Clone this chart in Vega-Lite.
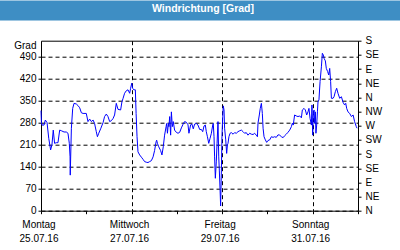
{
  "$schema": "https://vega.github.io/schema/vega-lite/v6.json",
  "width": 317,
  "height": 170,
  "autosize": {"type": "none"},
  "padding": {"left": 41, "top": 40.7, "right": 42, "bottom": 39.3},
  "background": "white",
  "config": {
    "view": {"stroke": "black", "strokeWidth": 1},
    "axis": {
      "labelFont": "Liberation Sans",
      "labelFontSize": 10,
      "labelColor": "black",
      "tickColor": "black",
      "tickSize": 3,
      "domain": false,
      "titleFont": "Liberation Sans",
      "labelFlush": false,
      "labelOverlap": false,
      "labelBound": false
    }
  },
  "data": {
    "values": [
      {"h": 0, "deg": 318}, {"h": 0.2, "deg": 283}, {"h": 0.5, "deg": 272}, {"h": 1.6, "deg": 272},
      {"h": 2.3, "deg": 288}, {"h": 3.2, "deg": 280}, {"h": 4.1, "deg": 230}, {"h": 5.1, "deg": 193},
      {"h": 5.8, "deg": 209}, {"h": 6.5, "deg": 256}, {"h": 7.2, "deg": 214}, {"h": 8.1, "deg": 216},
      {"h": 9.0, "deg": 216}, {"h": 9.9, "deg": 256}, {"h": 10.8, "deg": 254}, {"h": 12.2, "deg": 250},
      {"h": 13.4, "deg": 250}, {"h": 14.3, "deg": 246}, {"h": 15.0, "deg": 214}, {"h": 15.4, "deg": 171},
      {"h": 15.5, "deg": 113}, {"h": 16.1, "deg": 262}, {"h": 16.8, "deg": 325}, {"h": 17.5, "deg": 341},
      {"h": 18.7, "deg": 339}, {"h": 19.6, "deg": 334}, {"h": 20.5, "deg": 327}, {"h": 21.4, "deg": 311},
      {"h": 22.3, "deg": 309}, {"h": 24.0, "deg": 309}, {"h": 24.9, "deg": 283}, {"h": 25.8, "deg": 291},
      {"h": 26.7, "deg": 283}, {"h": 27.6, "deg": 288}, {"h": 28.4, "deg": 277}, {"h": 29.3, "deg": 251},
      {"h": 29.9, "deg": 235}, {"h": 30.6, "deg": 246}, {"h": 31.6, "deg": 260}, {"h": 32.9, "deg": 280},
      {"h": 33.7, "deg": 299}, {"h": 34.6, "deg": 307}, {"h": 35.5, "deg": 299}, {"h": 36.4, "deg": 283},
      {"h": 37.3, "deg": 286}, {"h": 38.2, "deg": 293}, {"h": 39.0, "deg": 304}, {"h": 39.9, "deg": 341},
      {"h": 40.8, "deg": 322}, {"h": 42.2, "deg": 320}, {"h": 42.9, "deg": 346}, {"h": 43.5, "deg": 357},
      {"h": 44.3, "deg": 373}, {"h": 45.2, "deg": 381}, {"h": 46.1, "deg": 384}, {"h": 47.0, "deg": 373},
      {"h": 47.5, "deg": 389}, {"h": 48.1, "deg": 405}, {"h": 48.6, "deg": 388}, {"h": 49.3, "deg": 384},
      {"h": 50.0, "deg": 384}, {"h": 50.4, "deg": 309}, {"h": 50.9, "deg": 235}, {"h": 51.4, "deg": 187},
      {"h": 52.3, "deg": 177}, {"h": 53.2, "deg": 170}, {"h": 54.1, "deg": 163}, {"h": 54.9, "deg": 156},
      {"h": 55.8, "deg": 154}, {"h": 56.7, "deg": 153}, {"h": 57.6, "deg": 156}, {"h": 58.5, "deg": 159},
      {"h": 59.4, "deg": 171}, {"h": 60.2, "deg": 191}, {"h": 61.0, "deg": 219}, {"h": 61.3, "deg": 224},
      {"h": 61.7, "deg": 214}, {"h": 62.4, "deg": 203}, {"h": 63.4, "deg": 191}, {"h": 64.1, "deg": 177},
      {"h": 64.8, "deg": 203}, {"h": 65.5, "deg": 240}, {"h": 66.3, "deg": 267}, {"h": 66.6, "deg": 277},
      {"h": 67.0, "deg": 246}, {"h": 67.5, "deg": 277}, {"h": 67.8, "deg": 267}, {"h": 68.2, "deg": 299},
      {"h": 68.7, "deg": 240}, {"h": 69.1, "deg": 314}, {"h": 69.6, "deg": 267}, {"h": 70.1, "deg": 283},
      {"h": 70.8, "deg": 256}, {"h": 71.7, "deg": 249}, {"h": 72.6, "deg": 246}, {"h": 73.5, "deg": 249},
      {"h": 74.4, "deg": 263}, {"h": 75.3, "deg": 275}, {"h": 76.1, "deg": 283}, {"h": 77.0, "deg": 281},
      {"h": 77.9, "deg": 273}, {"h": 78.4, "deg": 246}, {"h": 79.3, "deg": 273}, {"h": 80.0, "deg": 275},
      {"h": 80.7, "deg": 260}, {"h": 81.4, "deg": 275}, {"h": 82.3, "deg": 277}, {"h": 83.2, "deg": 272},
      {"h": 84.1, "deg": 258}, {"h": 85.0, "deg": 258}, {"h": 85.7, "deg": 251}, {"h": 86.4, "deg": 269},
      {"h": 87.1, "deg": 272}, {"h": 87.6, "deg": 251}, {"h": 88.2, "deg": 235}, {"h": 88.9, "deg": 214},
      {"h": 89.6, "deg": 230}, {"h": 90.3, "deg": 246}, {"h": 91.0, "deg": 272}, {"h": 91.3, "deg": 277},
      {"h": 91.7, "deg": 235}, {"h": 92.0, "deg": 171}, {"h": 92.4, "deg": 103}, {"h": 92.9, "deg": 155},
      {"h": 93.3, "deg": 214}, {"h": 93.8, "deg": 283}, {"h": 94.2, "deg": 171}, {"h": 94.5, "deg": 129},
      {"h": 94.9, "deg": 66}, {"h": 95.2, "deg": 15}, {"h": 95.6, "deg": 129}, {"h": 95.9, "deg": 235},
      {"h": 96.3, "deg": 299}, {"h": 96.6, "deg": 333}, {"h": 97.0, "deg": 320}, {"h": 97.3, "deg": 262},
      {"h": 97.9, "deg": 225}, {"h": 98.4, "deg": 182}, {"h": 98.8, "deg": 209}, {"h": 99.1, "deg": 214},
      {"h": 99.6, "deg": 235}, {"h": 100.2, "deg": 246}, {"h": 100.9, "deg": 248}, {"h": 101.8, "deg": 243},
      {"h": 102.6, "deg": 248}, {"h": 103.5, "deg": 246}, {"h": 104.4, "deg": 251}, {"h": 105.3, "deg": 254},
      {"h": 106.2, "deg": 256}, {"h": 107.1, "deg": 251}, {"h": 107.9, "deg": 246}, {"h": 108.8, "deg": 248},
      {"h": 109.7, "deg": 240}, {"h": 110.6, "deg": 246}, {"h": 111.5, "deg": 243}, {"h": 112.4, "deg": 242},
      {"h": 113.2, "deg": 246}, {"h": 114.1, "deg": 240}, {"h": 114.7, "deg": 235}, {"h": 115.0, "deg": 278},
      {"h": 115.7, "deg": 304}, {"h": 116.2, "deg": 325}, {"h": 116.8, "deg": 341}, {"h": 117.3, "deg": 309},
      {"h": 117.7, "deg": 262}, {"h": 118.2, "deg": 235}, {"h": 118.9, "deg": 225}, {"h": 119.6, "deg": 217},
      {"h": 120.3, "deg": 223}, {"h": 121.2, "deg": 225}, {"h": 122.1, "deg": 235}, {"h": 123.0, "deg": 233},
      {"h": 123.8, "deg": 235}, {"h": 124.7, "deg": 233}, {"h": 125.6, "deg": 241}, {"h": 126.5, "deg": 240},
      {"h": 127.4, "deg": 235}, {"h": 128.3, "deg": 232}, {"h": 129.1, "deg": 238}, {"h": 130.0, "deg": 243},
      {"h": 130.9, "deg": 249}, {"h": 131.8, "deg": 256}, {"h": 132.7, "deg": 267}, {"h": 133.2, "deg": 278},
      {"h": 133.7, "deg": 272}, {"h": 134.4, "deg": 304}, {"h": 135.3, "deg": 301}, {"h": 136.2, "deg": 299},
      {"h": 137.1, "deg": 301}, {"h": 138.0, "deg": 295}, {"h": 138.5, "deg": 320}, {"h": 139.4, "deg": 325},
      {"h": 140.1, "deg": 320}, {"h": 140.8, "deg": 304}, {"h": 141.5, "deg": 314}, {"h": 142.0, "deg": 325},
      {"h": 142.6, "deg": 293}, {"h": 143.3, "deg": 272}, {"h": 143.6, "deg": 336}, {"h": 144.0, "deg": 240},
      {"h": 144.3, "deg": 304}, {"h": 144.7, "deg": 320}, {"h": 145.0, "deg": 278}, {"h": 145.4, "deg": 314},
      {"h": 145.7, "deg": 246}, {"h": 146.1, "deg": 272}, {"h": 146.5, "deg": 314}, {"h": 146.8, "deg": 346},
      {"h": 147.3, "deg": 352}, {"h": 147.9, "deg": 410}, {"h": 148.6, "deg": 457}, {"h": 149.1, "deg": 500},
      {"h": 149.6, "deg": 495}, {"h": 150.0, "deg": 484}, {"h": 150.7, "deg": 476}, {"h": 151.2, "deg": 452},
      {"h": 151.9, "deg": 442}, {"h": 152.5, "deg": 431}, {"h": 153.0, "deg": 452}, {"h": 153.5, "deg": 410},
      {"h": 153.9, "deg": 357}, {"h": 154.8, "deg": 357}, {"h": 155.3, "deg": 362}, {"h": 156.0, "deg": 378},
      {"h": 156.7, "deg": 389}, {"h": 157.4, "deg": 373}, {"h": 158.3, "deg": 357}, {"h": 159.2, "deg": 362},
      {"h": 160.1, "deg": 344}, {"h": 160.9, "deg": 336}, {"h": 161.5, "deg": 341}, {"h": 162.0, "deg": 325},
      {"h": 162.7, "deg": 314}, {"h": 163.6, "deg": 309}, {"h": 164.5, "deg": 299}, {"h": 165.4, "deg": 304},
      {"h": 166.2, "deg": 283}, {"h": 167.1, "deg": 267}, {"h": 167.5, "deg": 262}
    ]
  },
  "layer": [
    {
      "mark": {"type": "line", "color": "#0000ff", "strokeWidth": 1},
      "encoding": {
        "x": {
          "field": "h",
          "type": "quantitative",
          "scale": {"domain": [0, 168], "nice": false, "zero": false},
          "axis": {
            "orient": "bottom",
            "title": null,
            "values": [0, 24, 48, 72, 96, 120, 144, 168],
            "grid": true,
            "gridColor": "black",
            "gridDash": [4, 3],
            "gridOpacity": {"condition": {"test": "datum.value == 48 || datum.value == 96 || datum.value == 144", "value": 1}, "value": 0},
            "labelExpr": "datum.value % 48 == 0 && datum.value < 168 ? [['Montag','Mittwoch','Freitag','Sonntag'][datum.value/48], ['25.07.16','27.07.16','29.07.16','31.07.16'][datum.value/48]] : ''",
            "labelOffset": -2.5,
            "labelPadding": 13.6,
            "labelBaseline": "alphabetic",
            "labelLineHeight": 14.5
          }
        },
        "y": {
          "field": "deg",
          "type": "quantitative",
          "scale": {"domain": [0, 540], "nice": false, "zero": false},
          "axis": {
            "orient": "left",
            "values": [-119, 0, 70, 140, 210, 280, 350, 420, 490],
            "labelExpr": "datum.value < 0 ? '' : datum.label",
            "grid": true,
            "gridColor": {"condition": {"test": "datum.value < 0", "value": "#3e8ec4"}, "value": "black"},
            "gridDash": {"condition": {"test": "datum.value < 0", "value": []}, "value": [4, 3]},
            "gridWidth": {"condition": {"test": "datum.value < 0", "value": 1.8}, "value": 1},
            "tickColor": {"condition": {"test": "datum.value < 0", "value": "#3e8ec4"}, "value": "black"},
            "tickSize": {"condition": {"test": "datum.value < 0", "value": 42}, "value": 3},
            "tickWidth": {"condition": {"test": "datum.value < 0", "value": 1.8}, "value": 1},
            "labelPadding": 2,
            "title": "Grad",
            "titleAngle": 0,
            "titleAlign": "right",
            "titleBaseline": "alphabetic",
            "titleX": -5,
            "titleY": 7.6,
            "titleFontSize": 10,
            "titleFontWeight": "normal",
            "titleColor": "black"
          }
        }
      }
    },
    {
      "mark": {"type": "line", "strokeOpacity": 0},
      "encoding": {
        "x": {
          "field": "h",
          "type": "quantitative",
          "scale": {"domain": [0, 168], "nice": false, "zero": false},
          "axis": {
            "orient": "top",
            "title": null,
            "values": [-21.3, 84, 189.4],
            "grid": false,
            "offset": 20.7,
            "tickSize": {"condition": {"test": "datum.value == 84", "value": 20}, "value": -229},
            "tickWidth": {"condition": {"test": "datum.value == 84", "value": 402}, "value": 1.8},
            "tickColor": "#3e8ec4",
            "labelExpr": "datum.value == 84 ? 'Windrichtung [Grad]' : ''",
            "labelColor": "white",
            "labelFontWeight": "bold",
            "labelFontSize": 10.5,
            "labelPadding": -11,
            "labelBaseline": "alphabetic",
            "labelOffset": 3
          }
        },
        "y": {
          "field": "deg",
          "type": "quantitative",
          "scale": {"domain": [0, 540], "nice": false, "zero": false},
          "axis": {
            "orient": "right",
            "title": null,
            "grid": false,
            "values": [-119, 0, 45, 90, 135, 180, 225, 270, 315, 360, 405, 450, 495, 540],
            "labelExpr": "datum.value < 0 ? '' : ['N','NE','E','SE','S','SW','W','NW','N','NE','E','SE','S'][round(datum.value/45)]",
            "tickColor": {"condition": {"test": "datum.value < 0", "value": "#3e8ec4"}, "value": "black"},
            "tickSize": {"condition": {"test": "datum.value < 0", "value": 41}, "value": 3},
            "tickWidth": {"condition": {"test": "datum.value < 0", "value": 1.8}, "value": 1},
            "labelPadding": 4
          }
        }
      }
    }
  ],
  "resolve": {"scale": {"x": "independent", "y": "independent"}}
}
